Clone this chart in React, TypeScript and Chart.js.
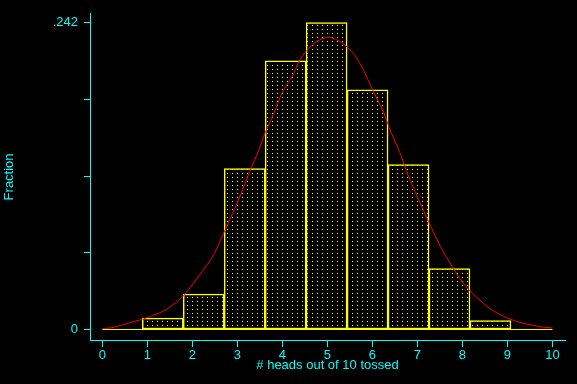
import React, { useEffect, useRef } from "react";
import { Chart, registerables } from "chart.js";

Chart.register(...registerables);

// Histogram bins (bin centres on the x scale) and their fractions
const binCenters = [1.344, 2.254, 3.164, 4.074, 4.984, 5.894, 6.804, 7.714, 8.624];
const binFractions = [0.009, 0.028, 0.127, 0.212, 0.242, 0.189, 0.13, 0.048, 0.007];

// Overlaid normal-density curve
const curveX = [0, 0.25, 0.69, 0.97, 1.43, 1.82, 2.02, 2.24, 2.47, 2.69, 2.84, 3.02, 3.28, 3.47, 3.62, 3.8, 4.0, 4.24, 4.39, 4.54, 4.76, 5.04, 5.32, 5.58, 5.8, 6.0, 6.24, 6.39, 6.62, 6.8, 7.0, 7.27, 7.54, 7.8, 8.0, 8.17, 8.39, 8.62, 9.0, 9.28, 9.72, 10.0];
const curveY = [0.0006, 0.0017, 0.0061, 0.009, 0.0158, 0.0271, 0.0362, 0.0467, 0.0584, 0.0755, 0.0872, 0.1016, 0.1251, 0.1408, 0.1552, 0.1696, 0.1871, 0.201, 0.2127, 0.22, 0.2271, 0.2306, 0.2263, 0.2179, 0.2049, 0.1894, 0.1722, 0.1578, 0.1388, 0.1212, 0.1047, 0.0833, 0.0637, 0.048, 0.0373, 0.0304, 0.0231, 0.0161, 0.009, 0.0056, 0.0022, 0.0012];

// Axis ticks
const xTicks = [0, 1, 2, 3, 4, 5, 6, 7, 8, 9, 10];
const yTicks = [0, 0.0605, 0.121, 0.1815, 0.242];
const yTickLabels = ["0", "", "", "", ".242"];

const baseX = [0, 10];
const baseY = [0, 0];

const CYAN = "#00ffff";
const YELLOW = "#ffff00";
const RED = "#ff0000";

export default function App() {
  const ref = useRef<HTMLCanvasElement | null>(null);

  useEffect(() => {
    const canvas = ref.current;
    if (!canvas) return;
    const tile = document.createElement("canvas");
    tile.width = 5;
    tile.height = 4;
    const tctx = tile.getContext("2d")!;
    tctx.fillStyle = "#000";
    tctx.fillRect(0, 0, 5, 4);
    tctx.fillStyle = YELLOW;
    tctx.fillRect(2, 1, 1, 1);
    const ctx = canvas.getContext("2d")!;
    const pattern = ctx.createPattern(tile, "repeat")!;

    const font = { family: "'Liberation Sans', Arial, sans-serif", size: 13 };

    const chart = new Chart(canvas, {
      type: "line",
      data: {
        datasets: [
          {
            type: "line",
            data: curveX.map((x, i) => ({ x, y: curveY[i] })),
            borderColor: RED,
            borderWidth: 1,
            pointRadius: 0,
            fill: false,
            tension: 0.2,
            order: 0,
          } as any,
          {
            type: "line",
            data: baseX.map((x, i) => ({ x, y: baseY[i] })),
            borderColor: YELLOW,
            borderWidth: 1,
            pointRadius: 0,
            fill: false,
            order: 1,
          } as any,
          {
            type: "bar",
            data: binCenters.map((x, i) => ({ x, y: binFractions[i] })),
            backgroundColor: pattern,
            borderColor: YELLOW,
            borderWidth: 1.5,
            borderSkipped: false,
            categoryPercentage: 1,
            barPercentage: 1,
            order: 2,
          } as any,
        ],
      },
      options: {
        animation: false,
        responsive: false,
        maintainAspectRatio: false,
        layout: { padding: { left: 0, right: 12, top: 12, bottom: 0 } },
        plugins: { legend: { display: false }, tooltip: { enabled: false } },
        scales: {
          x: {
            type: "linear",
            min: -0.273,
            max: 10.28,
            offset: false,
            afterFit: (s: any) => {
              s.height = 44;
            },
            afterBuildTicks: (s: any) => {
              s.ticks = xTicks.map((v) => ({ value: v }));
            },
            grid: {
              offset: false,
              drawOnChartArea: false,
              drawTicks: true,
              tickLength: 7,
              color: CYAN,
            },
            border: { color: CYAN, width: 1 },
            ticks: {
              color: CYAN,
              font,
              padding: 1,
              maxRotation: 0,
              autoSkip: false,
              callback: (v: any) => String(v),
            },
            title: {
              display: true,
              text: "# heads out of 10 tossed",
              color: CYAN,
              font,
              padding: { top: 0, bottom: 11 },
            },
          },
          y: {
            type: "linear",
            min: -0.0083,
            max: 0.249,
            afterFit: (s: any) => {
              s.width = 90;
            },
            afterBuildTicks: (s: any) => {
              s.ticks = yTicks.map((v) => ({ value: v }));
            },
            grid: {
              drawOnChartArea: false,
              drawTicks: true,
              tickLength: 6,
              color: CYAN,
            },
            border: { color: CYAN, width: 1 },
            ticks: {
              color: CYAN,
              font,
              padding: 6,
              autoSkip: false,
              callback: (_v: any, i: number) => yTickLabels[i],
            },
            title: {
              display: true,
              text: "Fraction",
              color: CYAN,
              font,
              padding: { top: 2, bottom: 0 },
            },
          },
        },
      },
    });
    return () => chart.destroy();
  }, []);

  return (
    <div
      style={{
        position: "fixed",
        left: 0,
        top: 0,
        width: 577,
        height: 384,
        background: "#000",
      }}
    >
      <canvas ref={ref} width={577} height={384} style={{ display: "block" }} />
    </div>
  );
}
